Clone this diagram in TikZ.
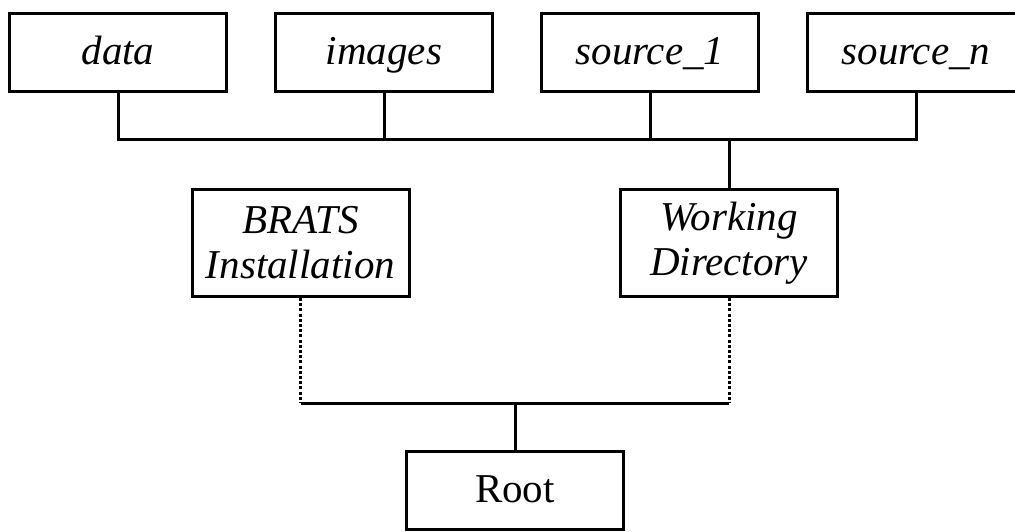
\documentclass[tikz,border=0pt]{standalone}
\usepackage{fontspec}
\setmainfont{Liberation Serif}
\usepackage{tikz}
\usetikzlibrary{positioning, calc}

\begin{document}
\begin{tikzpicture}[x=1pt, y=1pt, node distance=46pt]
        % Define block styles
        \tikzstyle{box} = [rectangle, draw, line width=3pt, inner sep=0pt, minimum width=217pt, minimum height=78pt, align=center, font=\fontsize{41}{45}\selectfont]
        \tikzstyle{leaf} = [box, text height=31pt, text depth=7pt]
        \tikzstyle{line} = [draw, line width=3pt]
        \tikzstyle{dots} = [draw, line width=3pt, dash pattern=on 3pt off 2.2pt]

        \useasboundingbox (0,0) rectangle (1015,531);

        % Nodes
        \node [leaf] at (118,478.5) (data) {\textit{data}};
        \node [leaf, right=of data] (images) {\textit{images}};
        \node [leaf, right=of images] (source1) {\textit{source\_1}};
        \node [leaf, right=of source1] (sourcen) {\textit{source\_n}};
        \node [box, minimum height=107pt] at (300.5,288) (brats) {\textit{BRATS}\\ \textit{Installation}};
        \node [box, minimum height=107pt] at (729,288) (working) {\textit{Working}\\ \textit{Directory}};
        \node [leaf] at (515,40.5) (root) {Root};

        % Joints
        \coordinate (topjoin) at ($(working.north)+(0,48)$);
        \coordinate (lowjoin) at ($(root.north)+(0,47)$);

        % Paths
        \path [line] (data.south) |- (topjoin);
        \path [line] (sourcen.south) |- (topjoin);
        \path [line] (images.south) -- (images.south |- topjoin);
        \path [line] (source1.south) -- (source1.south |- topjoin);
        \path [line] (working.north) -- (topjoin);
        \path [dots] (brats.south) -- (brats.south |- lowjoin);
        \path [dots] (working.south) -- (working.south |- lowjoin);
        \path [line] (brats.south |- lowjoin) -- (working.south |- lowjoin);
        \path [line] (root.north) -- (lowjoin);

    \end{tikzpicture}
\end{document}
